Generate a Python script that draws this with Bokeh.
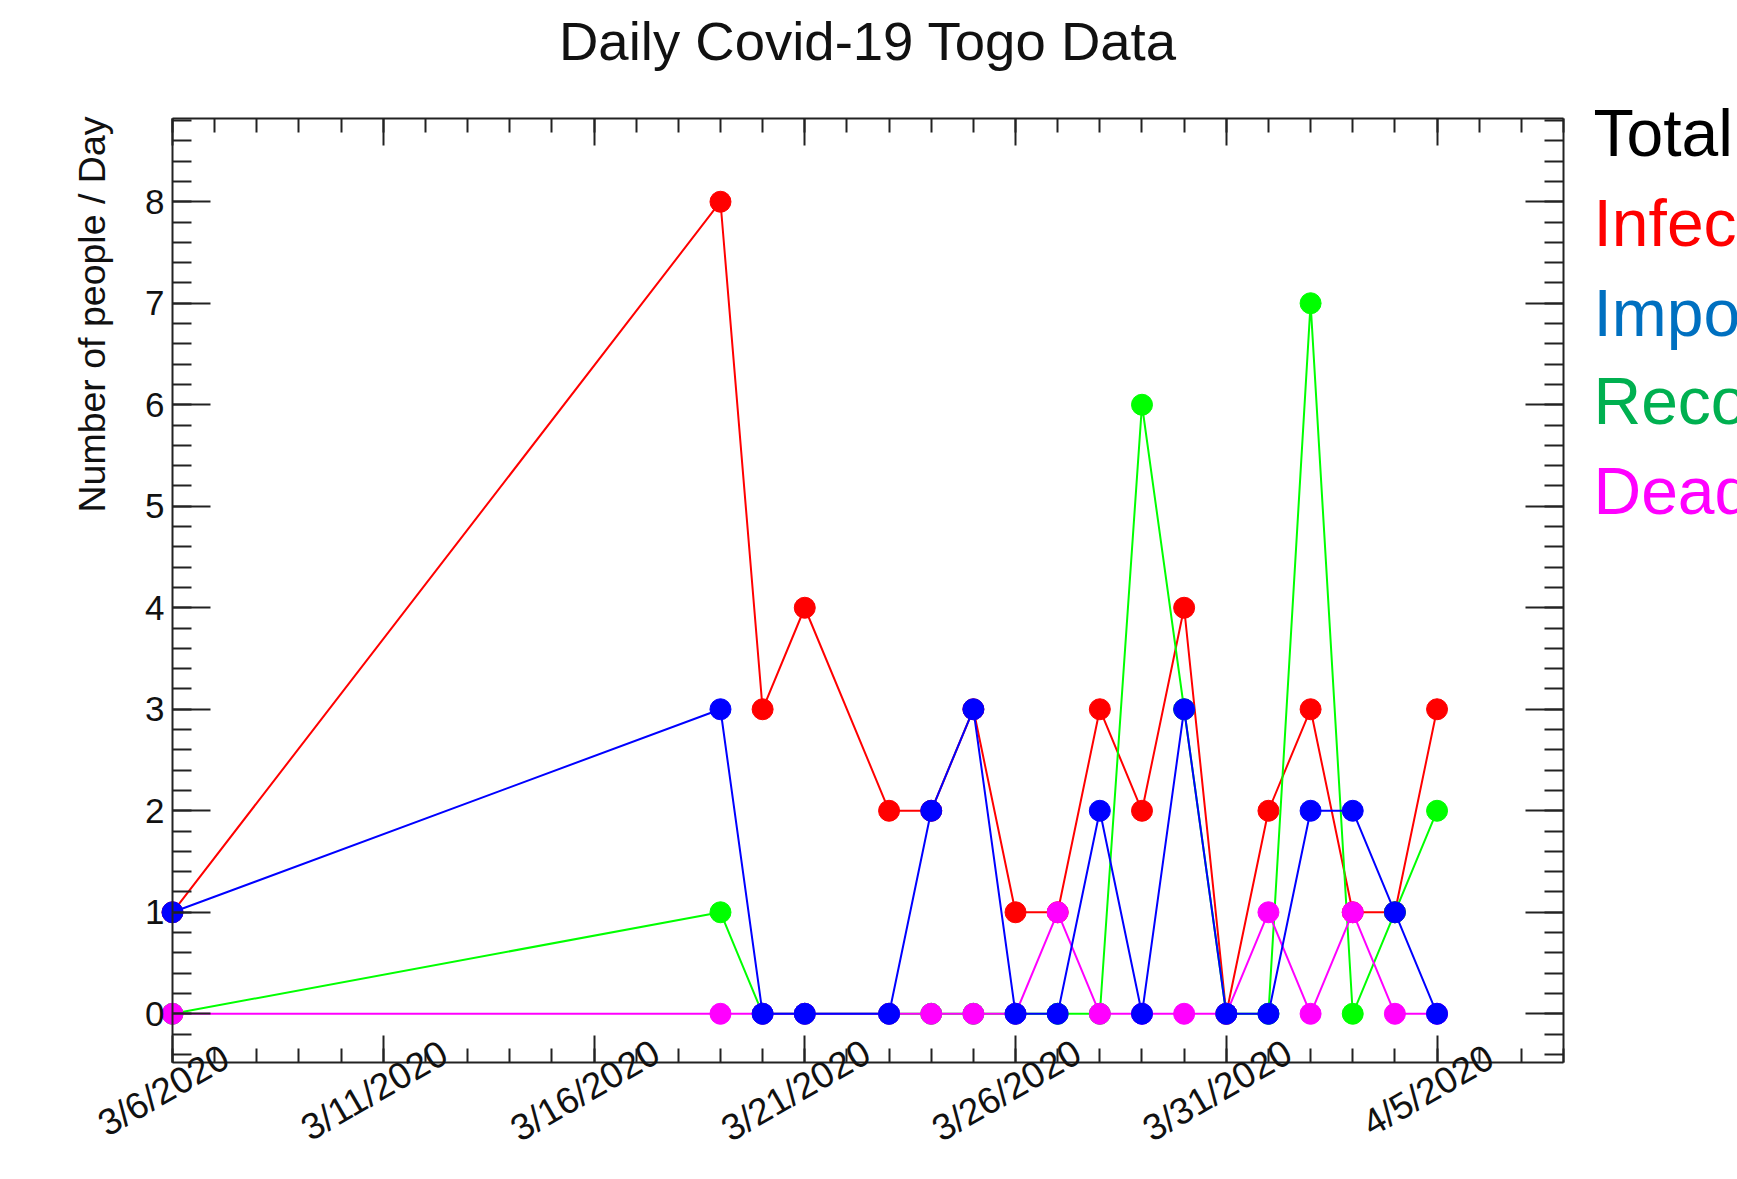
import math
import pandas as pd
from bokeh.plotting import figure
from bokeh.models import (ColumnDataSource, Range1d, LinearAxis, FixedTicker,
                          SingleIntervalTicker, LabelSet, Label, CustomJSTickFormatter)
from bokeh.core.properties import value
from bokeh.embed import file_html
from bokeh.resources import INLINE

# ---------------- data ----------------
dates = ["2020-03-06", "2020-03-19", "2020-03-20", "2020-03-21", "2020-03-23",
         "2020-03-24", "2020-03-25", "2020-03-26", "2020-03-27", "2020-03-28",
         "2020-03-29", "2020-03-30", "2020-03-31", "2020-04-01", "2020-04-02",
         "2020-04-03", "2020-04-04", "2020-04-05"]
infected = [1, 8, 3, 4, 2, 2, 3, 1, 1, 3, 2, 4, 0, 2, 3, 1, 1, 3]
imported = [1, 3, 0, 0, 0, 2, 3, 0, 0, 2, 0, 3, 0, 0, 2, 2, 1, 0]
recovered = [0, 1, 0, 0, 0, 0, 0, 0, 0, 0, 6, 3, 0, 0, 7, 0, 1, 2]
dead = [0, 0, 0, 0, 0, 0, 0, 0, 1, 0, 0, 0, 0, 1, 0, 1, 0, 0]

tick_dates = ["2020-03-06", "2020-03-11", "2020-03-16", "2020-03-21",
              "2020-03-26", "2020-03-31", "2020-04-05"]
tick_labels = ["3/6/2020", "3/11/2020", "3/16/2020", "3/21/2020",
               "3/26/2020", "3/31/2020", "4/5/2020"]
legend_names = ["Total", "Infected", "Imported", "Recovered", "Dead"]
legend_colors = ["#000000", "#FF0000", "#0070C0", "#00B050", "#FF00FF"]

title_text = "Daily Covid-19 Togo Data"
y_title = "Number of people / Day"

x_start, x_end = "2020-03-06", "2020-04-08"
y_start, y_end = -0.48, 8.82

FONT = "Liberation Sans"
DAY = 86400000


def ms(d):
    return pd.Timestamp(d).value // 10**6


# ---------------- geometry (canvas px) ----------------
W, H = 1737, 1179
BOX_L, BOX_R, BOX_T, BOX_B = 172, 1563, 118, 1062
FW = BOX_R - BOX_L
FH = BOX_B - BOX_T

x0, x1 = ms(x_start), ms(x_end)
px_per_ms = FW / (x1 - x0)
px_per_y = FH / (y_end - y_start)
xr = Range1d(x0 - BOX_L / px_per_ms, x1 + (W - BOX_R) / px_per_ms)
yr_ = Range1d(y_start - (H - BOX_B) / px_per_y, y_end + BOX_T / px_per_y)

p = figure(width=W, height=H, output_backend="svg", toolbar_location=None,
           x_axis_type=None, y_axis_type=None, x_range=xr, y_range=yr_,
           min_border_left=0, min_border_right=0,
           min_border_top=0, min_border_bottom=0,
           background_fill_color="white", border_fill_color="white",
           outline_line_color=None)
p.xgrid.visible = False
p.ygrid.visible = False

major_x = [ms(d) for d in tick_dates]
minor_x = list(range(x0, x1 + 1, DAY))


def style_axis(ax, tin, min_in, labels):
    ax.major_tick_in = tin
    ax.major_tick_out = 0
    ax.minor_tick_in = min_in
    ax.minor_tick_out = 0
    ax.axis_line_width = 2
    ax.axis_line_color = "#222222"
    ax.major_tick_line_width = 2
    ax.major_tick_line_color = "#222222"
    ax.minor_tick_line_width = 2
    ax.minor_tick_line_color = "#222222"
    if not labels:
        ax.formatter = CustomJSTickFormatter(code="return ''")
        ax.major_label_standoff = 0


xb = LinearAxis(ticker=FixedTicker(ticks=major_x, minor_ticks=minor_x),
                fixed_location=y_start, bounds=(x0, x1))
style_axis(xb, 27, 14, False)
xt = LinearAxis(ticker=FixedTicker(ticks=major_x, minor_ticks=minor_x),
                fixed_location=y_end, bounds=(x0, x1))
style_axis(xt, 27, 14, False)
yl = LinearAxis(ticker=SingleIntervalTicker(interval=1, num_minor_ticks=5),
                fixed_location=x0, bounds=(y_start, y_end))
style_axis(yl, 38, 19, True)
yl.major_label_text_font = FONT
yl.major_label_text_font_size = "35px"
yl.major_label_text_color = "#111111"
yl.major_label_standoff = 8
yr = LinearAxis(ticker=SingleIntervalTicker(interval=1, num_minor_ticks=5),
                fixed_location=x1, bounds=(y_start, y_end))
style_axis(yr, 38, 19, False)

p.add_layout(xb, "below")
p.add_layout(xt, "above")
p.add_layout(yl, "left")
p.add_layout(yr, "right")

# ---------------- series ----------------
src = ColumnDataSource(dict(date=pd.to_datetime(dates), infected=infected,
                            imported=imported, recovered=recovered, dead=dead))
series = [("infected", "#FF0000"), ("recovered", "#00FF00"),
          ("dead", "#FF00FF"), ("imported", "#0000FF")]
for col, color in series:
    p.line("date", col, source=src, line_color=color, line_width=2)
    p.scatter("date", col, source=src, size=21, fill_color=color,
              line_color=color)

# ---------------- x tick labels ----------------
tsrc = ColumnDataSource(dict(x=major_x, y=[H - 1090] * len(major_x),
                             text=tick_labels))
p.add_layout(LabelSet(x="x", y="y", text="text", source=tsrc,
                      x_units="data", y_units="screen",
                      angle=math.radians(30), x_offset=-9,
                      text_align="center", text_baseline="middle",
                      text_font=value(FONT), text_font_size=value("37px"),
                      text_color=value("#111111")))

# ---------------- titles ----------------
p.add_layout(Label(x=(BOX_L + BOX_R) / 2, y=H - 41, x_units="screen", y_units="screen",
                   text=title_text, text_align="center", text_baseline="middle",
                   text_font=FONT, text_font_size="54.5px", text_color="#111111"))
p.add_layout(Label(x=91, y=H - 116, x_units="screen", y_units="screen",
                   text=y_title, angle=math.pi / 2, text_align="right",
                   text_baseline="middle", text_font=FONT,
                   text_font_size="37.5px", text_color="#111111"))

# ---------------- legend texts ----------------
lsrc = ColumnDataSource(dict(x=[1593] * 5,
                             y=[H - 155, H - 245, H - 335, H - 423, H - 513],
                             text=legend_names, color=legend_colors))
p.add_layout(LabelSet(x="x", y="y", text="text", source=lsrc,
                      x_units="screen", y_units="screen",
                      text_align="left", text_baseline="alphabetic",
                      text_font=value(FONT), text_font_size=value("66px"),
                      text_color="color"))

open("out.html", "w").write(file_html(p, INLINE))
